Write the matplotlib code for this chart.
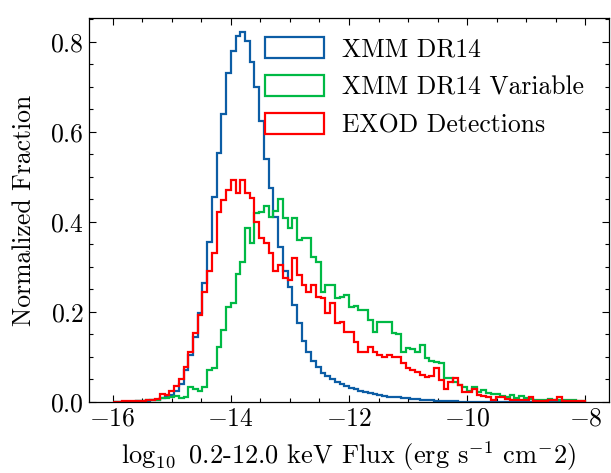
import matplotlib
matplotlib.use('Agg')
import matplotlib.pyplot as plt
from matplotlib.ticker import MultipleLocator
import numpy as np

plt.rcParams['font.family'] = 'serif'
plt.rcParams['font.serif'] = ['cmr10']
plt.rcParams['mathtext.fontset'] = 'cm'
plt.rcParams['axes.formatter.use_mathtext'] = True
plt.rcParams['font.size'] = 18.5

# histogram binning (log10 flux)
flux_lo, flux_hi, n_bins = -16.0, -8.0, 100

labels = ['XMM DR14', 'XMM DR14 Variable', 'EXOD Detections']
colors = ['#0C5DA5', '#00B945', '#FF0000']

# normalised fraction per bin
xmm_dr14 = [
    0.000, 0.000, 0.001, 0.001, 0.001, 0.002, 0.002, 0.003, 0.004, 0.005,
    0.008, 0.011, 0.016, 0.025, 0.040, 0.072, 0.105, 0.145, 0.198, 0.265,
    0.356, 0.455, 0.553, 0.640, 0.730, 0.780, 0.812, 0.822, 0.802, 0.756,
    0.700, 0.625, 0.540, 0.475, 0.410, 0.345, 0.290, 0.255, 0.215, 0.175,
    0.135, 0.110, 0.090, 0.077, 0.065, 0.058, 0.050, 0.044, 0.039, 0.035,
    0.031, 0.028, 0.025, 0.022, 0.020, 0.018, 0.016, 0.014, 0.012, 0.011,
    0.010, 0.009, 0.008, 0.007, 0.006, 0.005, 0.004, 0.004, 0.003, 0.003,
    0.002, 0.002, 0.002, 0.001, 0.001, 0.001, 0.001, 0.001, 0.001, 0.001,
    0.001, 0.000, 0.000, 0.000, 0.000, 0.000, 0.000, 0.000, 0.000, 0.000,
    0.000, 0.000, 0.000, 0.000, 0.000, 0.000, 0.000, 0.000, 0.000, 0.000,
]
xmm_var = [
    0.000, 0.000, 0.000, 0.001, 0.001, 0.002, 0.003, 0.004, 0.004, 0.005,
    0.008, 0.008, 0.010, 0.013, 0.008, 0.010, 0.033, 0.028, 0.025, 0.034,
    0.071, 0.075, 0.122, 0.160, 0.210, 0.220, 0.284, 0.310, 0.386, 0.353,
    0.420, 0.423, 0.436, 0.410, 0.424, 0.451, 0.409, 0.386, 0.409, 0.360,
    0.364, 0.364, 0.323, 0.312, 0.245, 0.260, 0.260, 0.230, 0.233, 0.238,
    0.212, 0.214, 0.204, 0.204, 0.182, 0.156, 0.178, 0.177, 0.177, 0.153,
    0.150, 0.110, 0.120, 0.117, 0.110, 0.127, 0.098, 0.090, 0.088, 0.086,
    0.053, 0.053, 0.045, 0.038, 0.033, 0.024, 0.033, 0.022, 0.027, 0.020,
    0.018, 0.018, 0.014, 0.010, 0.015, 0.008, 0.013, 0.008, 0.006, 0.004,
    0.004, 0.004, 0.006, 0.004, 0.004, 0.004, 0.005, 0.005, 0.002, 0.002,
]
exod = [
    0.001, 0.001, 0.002, 0.002, 0.002, 0.003, 0.003, 0.004, 0.004, 0.006,
    0.018, 0.015, 0.025, 0.035, 0.050, 0.078, 0.112, 0.153, 0.193, 0.245,
    0.290, 0.331, 0.423, 0.449, 0.471, 0.493, 0.464, 0.493, 0.464, 0.453,
    0.400, 0.364, 0.353, 0.331, 0.290, 0.304, 0.275, 0.271, 0.320, 0.282,
    0.260, 0.245, 0.260, 0.234, 0.231, 0.198, 0.220, 0.175, 0.178, 0.156,
    0.156, 0.134, 0.112, 0.112, 0.123, 0.112, 0.104, 0.100, 0.104, 0.100,
    0.100, 0.087, 0.076, 0.071, 0.067, 0.060, 0.056, 0.058, 0.075, 0.049,
    0.029, 0.044, 0.053, 0.038, 0.022, 0.022, 0.028, 0.016, 0.014, 0.012,
    0.004, 0.012, 0.011, 0.006, 0.004, 0.004, 0.004, 0.004, 0.010, 0.003,
    0.003, 0.003, 0.004, 0.004, 0.010, 0.003, 0.002, 0.002, 0.002, 0.002,
]

edges = np.linspace(flux_lo, flux_hi, n_bins + 1)
centres = 0.5 * (edges[:-1] + edges[1:])

fig = plt.figure(figsize=(6.11, 4.73), dpi=100)
ax = fig.add_axes([89/611, 1 - 402/473, 520/611, 384/473])

for vals, lab, col in zip([xmm_dr14, xmm_var, exod], labels, colors):
    ax.hist(centres, bins=edges, weights=vals, histtype='step',
            color=col, lw=1.6, label=lab)

ax.set_xlim(-16.4, -7.6)
ax.set_ylim(0, 0.853)
ax.xaxis.set_major_locator(MultipleLocator(2))
ax.xaxis.set_minor_locator(MultipleLocator(0.5))
ax.yaxis.set_major_locator(MultipleLocator(0.2))
ax.yaxis.set_minor_locator(MultipleLocator(0.05))
ax.tick_params(which='both', direction='in', top=True, right=True, width=0.8)
ax.tick_params(which='major', length=5)
ax.tick_params(which='minor', length=2.8)
for s in ax.spines.values():
    s.set_linewidth(0.9)

ax.set_xlabel(r'$\log_{10}$ 0.2-12.0 keV Flux (erg s$^{-1}$ cm$^{-}$2)',
              fontsize=19, labelpad=6)
ax.set_ylabel('Normalized Fraction', labelpad=10)
ax.legend(loc='upper right', bbox_to_anchor=(1 - 15/520, 1 - 9/384),
          frameon=False, handlelength=2.3, handleheight=0.85,
          handletextpad=0.7, labelspacing=0.54, borderaxespad=0)

fig.savefig('out.png', dpi=100)
